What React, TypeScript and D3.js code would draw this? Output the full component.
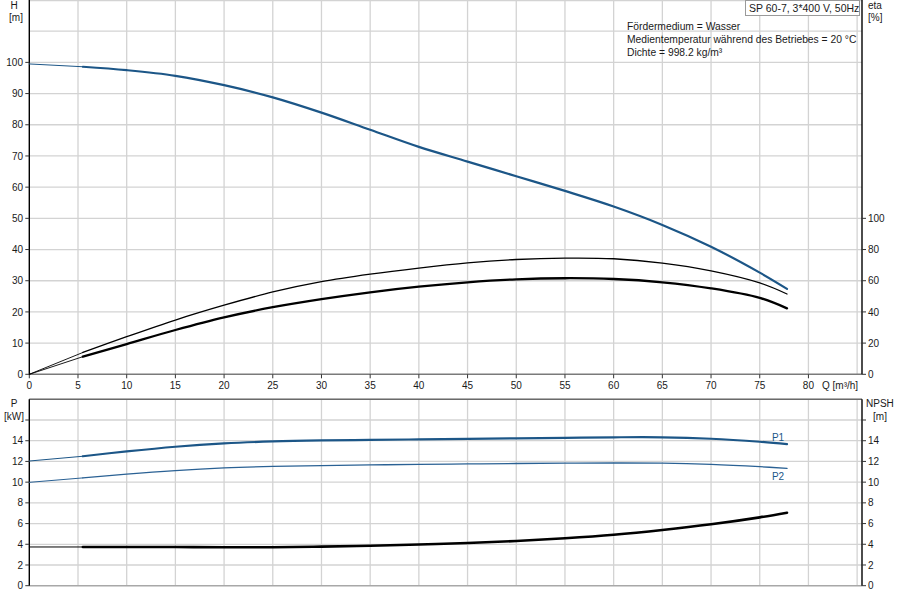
import React from "react";
import * as d3 from "d3";

// ---------- data ----------
const flowQ = [0, 5.5, 10, 15, 20, 25, 30, 35, 40, 45, 50, 55, 60, 65, 70, 75, 77.8];
const headH = [99.5, 98.6, 97.5, 95.7, 92.7, 88.8, 83.9, 78.4, 72.9, 68.2, 63.5, 58.8, 53.8, 47.9, 40.9, 32.6, 27.4];
const etaPump = [0, 14, 24.1, 34.8, 44.3, 52.8, 59.4, 64.2, 68.1, 71.4, 73.6, 74.5, 74.1, 71.3, 66.3, 58.6, 51.5];
const etaTotal = [0, 11.3, 19.4, 28.4, 36.5, 43, 48.2, 52.6, 56.2, 59, 60.9, 61.6, 61.1, 59, 55.1, 49, 42.3];
const powerP1 = [12.04, 12.5, 12.97, 13.42, 13.74, 13.93, 14.03, 14.08, 14.13, 14.18, 14.23, 14.28, 14.33, 14.33, 14.19, 13.9, 13.68];
const powerP2 = [9.98, 10.41, 10.78, 11.12, 11.37, 11.52, 11.6, 11.66, 11.72, 11.76, 11.8, 11.83, 11.85, 11.83, 11.71, 11.49, 11.33];
const npsh = [3.74, 3.74, 3.74, 3.73, 3.72, 3.72, 3.77, 3.86, 3.98, 4.12, 4.31, 4.58, 4.92, 5.38, 5.93, 6.6, 7.05];
const minFlow = 5.5;

const qTicks = [0, 5, 10, 15, 20, 25, 30, 35, 40, 45, 50, 55, 60, 65, 70, 75, 80];
const qGrid = [5, 10, 15, 20, 25, 30, 35, 40, 45, 50, 55, 60, 65, 70, 75, 80, 85];
const hTicks = [0, 10, 20, 30, 40, 50, 60, 70, 80, 90, 100];
const hGrid = [10, 20, 30, 40, 50, 60, 70, 80, 90, 100, 110, 120];
const etaTicks = [0, 20, 40, 60, 80, 100];
const pTicks = [0, 2, 4, 6, 8, 10, 12, 14];
const pGrid = [2, 4, 6, 8, 10, 12, 14, 16, 18];

const titleText = "SP 60-7, 3*400 V, 50Hz";
const infoLines = [
  "Fördermedium = Wasser",
  "Medientemperatur während des Betriebes = 20 °C",
  "Dichte = 998.2 kg/m³",
];

// ---------- layout ----------
const W = 900;
const H = 600;
const left = 29.3;
const right = 862;
const topTop = 0;
const topBottom = 374.3;
const botTop = 399.3;
const botBottom = 585.7;

const x = d3.scaleLinear().domain([0, 85.5]).range([left, right]);
const yH = d3.scaleLinear().domain([0, 120]).range([topBottom, topTop]);
const yEta = d3.scaleLinear().domain([0, 240]).range([topBottom, topTop]);
const yP = d3.scaleLinear().domain([0, 18]).range([botBottom, botTop]);

const BLUE = "#1c5687";
const FONT = "'Liberation Sans', Arial, sans-serif";

type Pt = [number, number];

function series(vals: number[]): Pt[] {
  return flowQ.map((q, i) => [q, vals[i]] as Pt);
}

function makePaths(vals: number[], y: d3.ScaleLinear<number, number>) {
  const gen = d3
    .line<Pt>()
    .x((d) => x(d[0]))
    .y((d) => y(d[1]))
    .curve(d3.curveCatmullRom.alpha(0.5));
  const pts = series(vals);
  const thin = pts.filter((d) => d[0] <= minFlow);
  const thick = pts.filter((d) => d[0] >= minFlow);
  return { thin: gen(thin) || "", thick: gen(thick) || "" };
}

const Curve: React.FC<{
  vals: number[];
  y: d3.ScaleLinear<number, number>;
  color: string;
  w: number;
  thinW: number;
}> = ({ vals, y, color, w, thinW }) => {
  const p = makePaths(vals, y);
  return (
    <g fill="none" stroke={color} strokeLinecap="round" strokeLinejoin="round">
      <path d={p.thin} strokeWidth={thinW} />
      <path d={p.thick} strokeWidth={w} />
    </g>
  );
};

export default function App() {
  const gridColor = "#d3d3d3";
  const txt = "#1a1a1a";
  return (
    <svg
      width={W}
      height={H}
      viewBox={`0 0 ${W} ${H}`}
      style={{ position: "absolute", left: 0, top: 0, background: "#fff" }}
      fontFamily={FONT}
    >
      <rect x={0} y={0} width={W} height={H} fill="#fff" />

      {/* ---------- top plot grid ---------- */}
      <g stroke={gridColor} strokeWidth={1.3}>
        {hGrid.map((v) => (
          <line key={"hg" + v} x1={left} x2={right} y1={Math.max(0.5, yH(v))} y2={Math.max(0.5, yH(v))} />
        ))}
        {qGrid.map((v) => (
          <line key={"qg" + v} x1={x(v)} x2={x(v)} y1={topTop} y2={topBottom} />
        ))}
      </g>

      {/* ---------- bottom plot grid ---------- */}
      <g stroke={gridColor} strokeWidth={1.3}>
        {pGrid.map((v) => (
          <line key={"pg" + v} x1={left} x2={right} y1={yP(v)} y2={yP(v)} />
        ))}
        {qGrid.map((v) => (
          <line key={"qg2" + v} x1={x(v)} x2={x(v)} y1={botTop} y2={botBottom} />
        ))}
      </g>

      {/* top plot x axis */}
      <line x1={left} x2={right} y1={topBottom} y2={topBottom} stroke="#7a7a7a" strokeWidth={1.6} />
      {qTicks.map((v) => (
        <g key={"qt" + v}>
          <line x1={x(v)} x2={x(v)} y1={topBottom} y2={topBottom + 4} stroke="#333" strokeWidth={1} />
          <text x={x(v)} y={389} fontSize={10} textAnchor="middle" fill={txt}>
            {v}
          </text>
        </g>
      ))}
      <text x={822} y={389} fontSize={10} fill={txt}>
        Q [m³/h]
      </text>

      {/* bottom plot frame lines */}
      <line x1={left} x2={right} y1={botTop} y2={botTop} stroke="#6a6a6a" strokeWidth={1.4} />
      <line x1={left} x2={right} y1={botBottom} y2={botBottom} stroke="#a8a8a8" strokeWidth={1.6} />

      {/* axes verticals */}
      <g stroke="#000" strokeWidth={1.4}>
        <line x1={left} x2={left} y1={topTop} y2={topBottom} />
        <line x1={right} x2={right} y1={topTop} y2={topBottom} />
        <line x1={left} x2={left} y1={botTop} y2={botBottom} />
        <line x1={right} x2={right} y1={botTop} y2={botBottom} />
      </g>

      {/* H axis ticks */}
      {hTicks.map((v) => (
        <g key={"ht" + v}>
          <line x1={left - 4} x2={left} y1={yH(v)} y2={yH(v)} stroke="#333" />
          <text x={23} y={yH(v) + 3.6} fontSize={10} textAnchor="end" fill={txt}>
            {v}
          </text>
        </g>
      ))}
      {/* eta axis ticks */}
      {etaTicks.map((v) => (
        <g key={"et" + v}>
          <line x1={right} x2={right + 4} y1={yEta(v)} y2={yEta(v)} stroke="#333" />
          <text x={868} y={yEta(v) + 3.6} fontSize={10} fill={txt}>
            {v}
          </text>
        </g>
      ))}
      {/* P axis ticks */}
      {pTicks.concat([16]).map((v) => (
        <g key={"pt" + v}>
          <line x1={left - 4} x2={left} y1={yP(v)} y2={yP(v)} stroke="#333" />
          <line x1={right} x2={right + 4} y1={yP(v)} y2={yP(v)} stroke="#333" />
          {v <= 14 && (
            <>
              <text x={23} y={yP(v) + 3.6} fontSize={10} textAnchor="end" fill={txt}>
                {v}
              </text>
              <text x={868} y={yP(v) + 3.6} fontSize={10} fill={txt}>
                {v}
              </text>
            </>
          )}
        </g>
      ))}

      {/* axis titles */}
      <text x={14} y={9} fontSize={10} textAnchor="middle" fill={txt}>H</text>
      <text x={16} y={21} fontSize={10} textAnchor="middle" fill={txt}>[m]</text>
      <text x={868} y={9} fontSize={10} fill={txt}>eta</text>
      <text x={868} y={21} fontSize={10} fill={txt}>[%]</text>
      <text x={14} y={407} fontSize={10} textAnchor="middle" fill={txt}>P</text>
      <text x={14} y={420} fontSize={10} textAnchor="middle" fill={txt}>[kW]</text>
      <text x={866} y={407} fontSize={10} fill={txt}>NPSH</text>
      <text x={880} y={420} fontSize={10} textAnchor="middle" fill={txt}>[m]</text>

      {/* ---------- curves ---------- */}
      <Curve vals={headH} y={yH} color={BLUE} w={2.2} thinW={1} />
      <Curve vals={etaPump} y={yEta} color="#000" w={1.3} thinW={0.9} />
      <Curve vals={etaTotal} y={yEta} color="#000" w={2.3} thinW={0.9} />
      <Curve vals={powerP1} y={yP} color={BLUE} w={2.2} thinW={1} />
      <Curve vals={powerP2} y={yP} color="#2a6194" w={1.3} thinW={1} />
      <Curve vals={npsh} y={yP} color="#000" w={2.6} thinW={1} />

      <text x={778} y={441} fontSize={10} textAnchor="middle" fill={BLUE}>P1</text>
      <text x={778} y={480} fontSize={10} textAnchor="middle" fill={BLUE}>P2</text>

      {/* ---------- info ---------- */}
      <rect x={745.5} y={0.5} width={114} height={15} fill="#fff" stroke="#9a9a9a" strokeWidth={1} />
      <text x={749} y={12} fontSize={10.5} fill={txt}>{titleText}</text>
      {infoLines.map((t, i) => (
        <text key={t} x={627} y={[29.5, 43, 55.5][i]} fontSize={10.3} fill={txt}>
          {t}
        </text>
      ))}
    </svg>
  );
}
